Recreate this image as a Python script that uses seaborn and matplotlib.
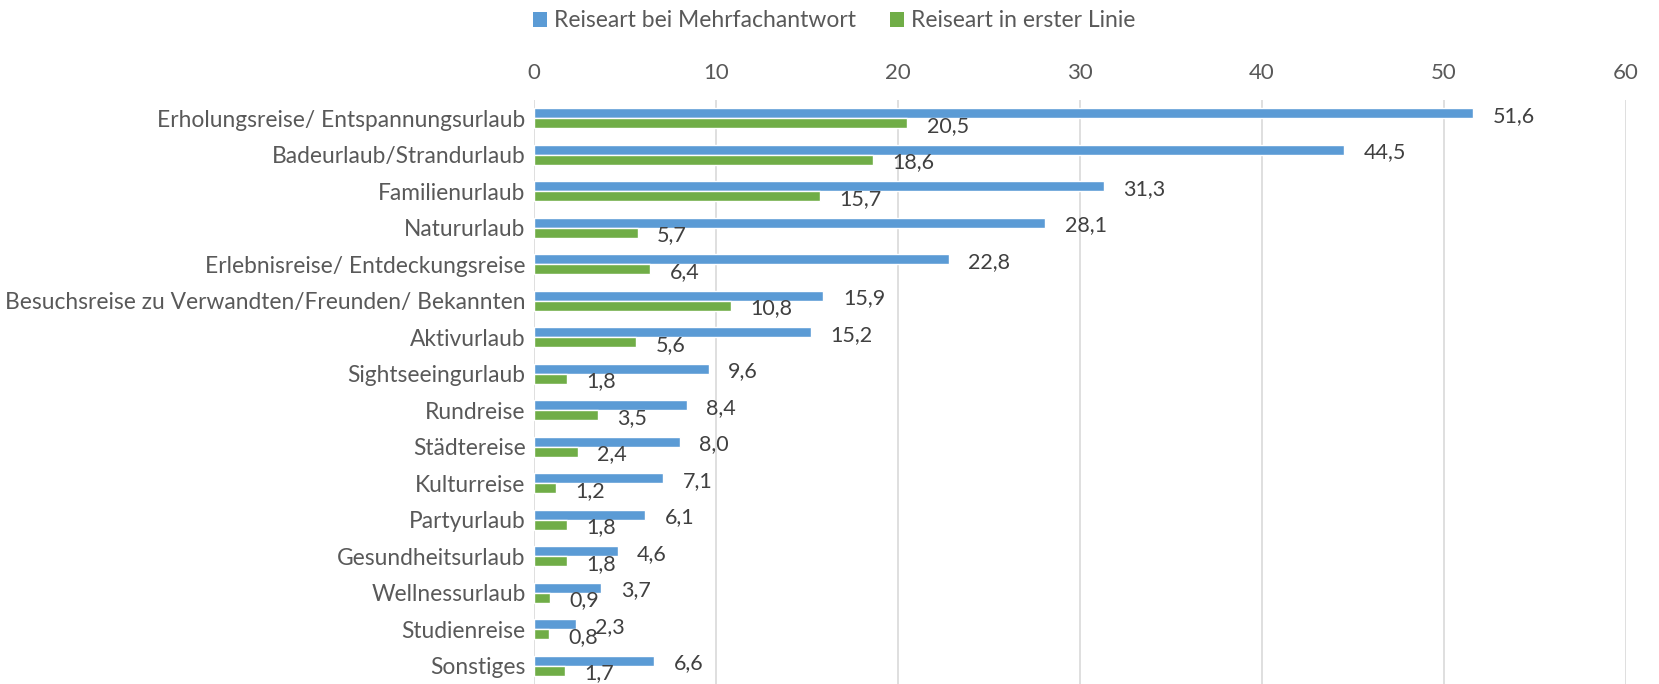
import matplotlib
matplotlib.use("Agg")
import matplotlib.pyplot as plt
import seaborn as sns
import pandas as pd
from matplotlib.patches import Patch

categories = [
    "Erholungsreise/ Entspannungsurlaub",
    "Badeurlaub/Strandurlaub",
    "Familienurlaub",
    "Natururlaub",
    "Erlebnisreise/ Entdeckungsreise",
    "Besuchsreise zu Verwandten/Freunden/ Bekannten",
    "Aktivurlaub",
    "Sightseeingurlaub",
    "Rundreise",
    "Städtereise",
    "Kulturreise",
    "Partyurlaub",
    "Gesundheitsurlaub",
    "Wellnessurlaub",
    "Studienreise",
    "Sonstiges",
]
mehrfach = [51.6, 44.5, 31.3, 28.1, 22.8, 15.9, 15.2, 9.6, 8.4, 8.0, 7.1, 6.1, 4.6, 3.7, 2.3, 6.6]
erste = [20.5, 18.6, 15.7, 5.7, 6.4, 10.8, 5.6, 1.8, 3.5, 2.4, 1.2, 1.8, 1.8, 0.9, 0.8, 1.7]
series_names = ["Reiseart bei Mehrfachantwort", "Reiseart in erster Linie"]
x_ticks = [0, 10, 20, 30, 40, 50, 60]

colors = ["#5B9BD5", "#70AD47"]
text_color = "#595959"

df = pd.concat([
    pd.DataFrame({"Kategorie": categories, "Wert": mehrfach, "Serie": series_names[0]}),
    pd.DataFrame({"Kategorie": categories, "Wert": erste, "Serie": series_names[1]}),
])

sns.set_style("white")
plt.rcParams["font.family"] = ["Lato", "DejaVu Sans"]

fig = plt.figure(figsize=(16.59, 6.84), dpi=100)
ax = fig.add_axes([534 / 1659, 0.0, (1626 - 534) / 1659, 584 / 684])

sns.barplot(data=df, x="Wert", y="Kategorie", hue="Serie", hue_order=series_names,
            palette=colors, orient="h", width=0.55, ax=ax, legend=False,
            saturation=1, errorbar=None)

for cont in ax.containers:
    anns = ax.bar_label(cont, labels=[f"{v:.1f}".replace(".", ",") for v in cont.datavalues],
                        padding=14, fontsize=15.5, color="#404040")
    for a in anns:
        a.xyann = (14, -2)

ax.set_xlim(0, 60)
ax.set_ylim(len(categories) - 0.5, -0.5)
ax.set_xticks(x_ticks)
ax.xaxis.tick_top()
ax.tick_params(axis="x", length=0, pad=12, labelsize=16, labelcolor=text_color)
ax.tick_params(axis="y", length=0, pad=6, labelsize=16.4, labelcolor=text_color)
ax.set_xlabel("")
ax.set_ylabel("")
ax.grid(axis="x", color="#D9D9D9", linewidth=1.2)
ax.set_axisbelow(True)
for s in ax.spines.values():
    s.set_visible(False)

handles = [Patch(facecolor=c, edgecolor="none") for c in colors]
fig.legend(handles, series_names, loc="upper center", bbox_to_anchor=(0.503, 1.015),
           ncol=2, frameon=False, fontsize=16.5, labelcolor=text_color,
           handlelength=0.6, handleheight=0.6, handletextpad=0.3, columnspacing=1.5)

fig.savefig("out.png", dpi=100)
